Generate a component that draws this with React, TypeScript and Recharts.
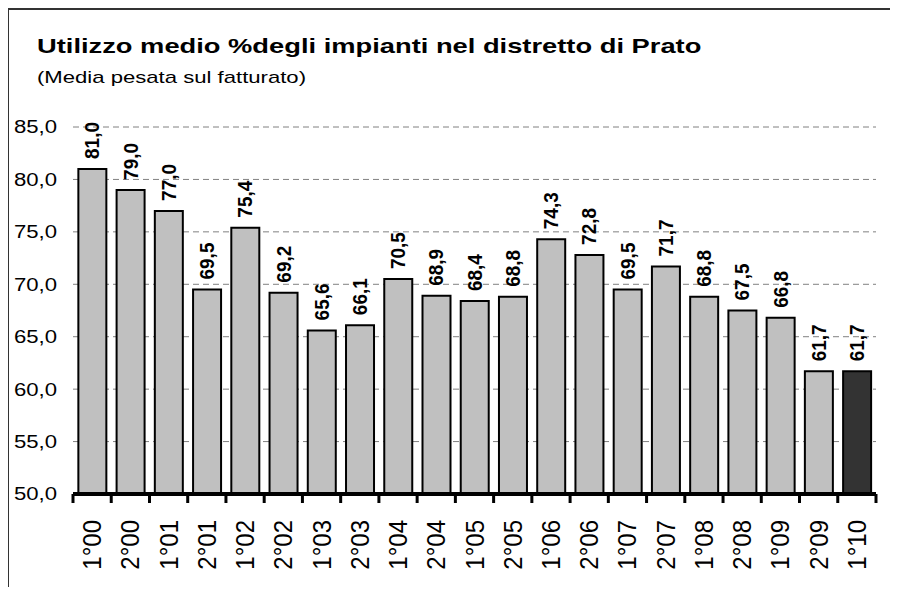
import React from 'react';
import { BarChart, Bar, XAxis, YAxis, CartesianGrid, Cell, LabelList } from 'recharts';

const periods = [
  '1°00', '2°00', '1°01', '2°01', '1°02', '2°02', '1°03', '2°03', '1°04', '2°04', '1°05',
  '2°05', '1°06', '2°06', '1°07', '2°07', '1°08', '2°08', '1°09', '2°09', '1°10',
];
const utilizzo = [
  81.0, 79.0, 77.0, 69.5, 75.4, 69.2, 65.6, 66.1, 70.5, 68.9, 68.4,
  68.8, 74.3, 72.8, 69.5, 71.7, 68.8, 67.5, 66.8, 61.7, 61.7,
];
const yTicks = [50, 55, 60, 65, 70, 75, 80, 85];

const W = 898;
const H = 595;
const MARGIN = { top: 127, right: 22, bottom: 71, left: 0 };
const Y_AXIS_W = 73;
const BAND = (W - Y_AXIS_W - MARGIN.left - MARGIN.right) / periods.length;
const FONT = '"Liberation Sans", Arial, sans-serif';
// the original picture is stretched sideways, so text is widened a bit
const STRETCH = 1.23;

const data = periods.map((p, i) => ({ period: p, value: utilizzo[i] }));

const fmt = (v: number) => v.toFixed(1).replace('.', ',');

const XTick = (props: any) => {
  const { x, y, payload, index } = props;
  const tx = x + 9;
  const ty = y + 26;
  return (
    <g>
      <line x1={x - BAND / 2} x2={x - BAND / 2} y1={y} y2={y + 9} stroke="#000" strokeWidth={3} />
      {index === periods.length - 1 && (
        <line x1={x + BAND / 2} x2={x + BAND / 2} y1={y} y2={y + 9} stroke="#000" strokeWidth={3} />
      )}
      <text
        transform={`translate(${tx}, ${ty}) scale(1.1, 1) rotate(-90)`}
        textAnchor="end"
        fontSize={24}
        fontFamily={FONT}
        fill="#000"
      >
        {payload.value}
      </text>
    </g>
  );
};

const YTick = (props: any) => {
  const { y, payload } = props;
  return (
    <text
      transform={`translate(57, ${y}) scale(${STRETCH}, 1)`}
      textAnchor="end"
      dy="0.36em"
      fontSize={18}
      fontFamily={FONT}
      fill="#000"
    >
      {fmt(payload.value)}
    </text>
  );
};

const ValueLabel = (props: any) => {
  const { x, y, width, value } = props;
  const tx = x + width / 2 + 7;
  const ty = y - 10;
  return (
    <text
      transform={`translate(${tx}, ${ty}) scale(1.1, 1) rotate(-90)`}
      textAnchor="start"
      fontSize={19}
      fontWeight="bold"
      fontFamily={FONT}
      fill="#000"
    >
      {fmt(value)}
    </text>
  );
};

export default function App() {
  return (
    <div style={{ position: 'relative', width: W, height: H, margin: -8, overflow: 'hidden', background: '#fff' }}>
      <div
        style={{
          position: 'absolute',
          left: 7,
          top: 8,
          width: 1000,
          height: 1000,
          borderTop: '2px solid #333',
          borderLeft: '2px solid #333',
        }}
      />
      <div
        style={{
          position: 'absolute',
          left: 37,
          top: 35,
          fontFamily: FONT,
          fontSize: 21,
          lineHeight: '21px',
          fontWeight: 'bold',
          whiteSpace: 'nowrap',
          transform: 'scaleX(1.3)',
          transformOrigin: 'left top',
        }}
      >
        Utilizzo medio %degli impianti nel distretto di Prato
      </div>
      <div
        style={{
          position: 'absolute',
          left: 37,
          top: 69,
          fontFamily: FONT,
          fontSize: 17,
          lineHeight: '17px',
          whiteSpace: 'nowrap',
          transform: 'scaleX(1.3)',
          transformOrigin: 'left top',
        }}
      >
        (Media pesata sul fatturato)
      </div>
      <div style={{ position: 'absolute', left: 0, top: 0 }}>
        <BarChart width={W} height={H} data={data} margin={MARGIN} barCategoryGap="14%">
          <CartesianGrid vertical={false} stroke="#808080" strokeDasharray="6 4" />
          <XAxis
            dataKey="period"
            height={30}
            interval={0}
            axisLine={{ stroke: '#000', strokeWidth: 4 }}
            tickLine={false}
            tickSize={0}
            tickMargin={0}
            tick={<XTick />}
          />
          <YAxis
            width={Y_AXIS_W}
            domain={[50, 85]}
            ticks={yTicks}
            allowDataOverflow
            axisLine={false}
            tickLine={false}
            tick={<YTick />}
          />
          <Bar dataKey="value" fill="#C0C0C0" stroke="#000" strokeWidth={2} isAnimationActive={false}>
            {data.map((d, i) => (
              <Cell key={d.period} fill={i === data.length - 1 ? '#333333' : '#C0C0C0'} />
            ))}
            <LabelList dataKey="value" content={<ValueLabel />} />
          </Bar>
        </BarChart>
      </div>
    </div>
  );
}
